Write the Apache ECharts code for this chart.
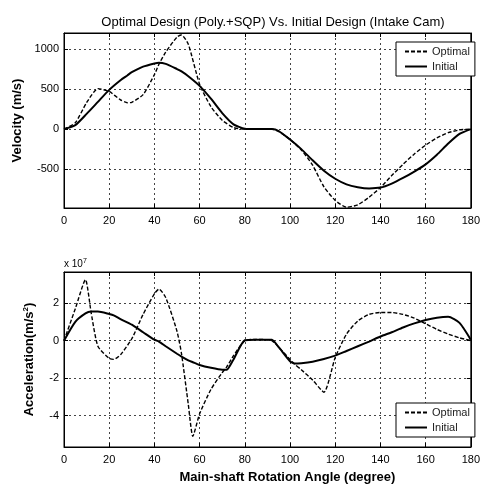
<!DOCTYPE html>
<html>
<head>
<meta charset="utf-8">
<script src="https://cdn.jsdelivr.net/npm/echarts@6/dist/echarts.min.js"></script>
<style>
  html, body { margin: 0; padding: 0; background: #fff; }
  #chart_container { width: 483px; height: 491px; }
</style>
</head>
<body>
<div id="chart_container"></div>
<script>
// velocity (m/s) vs main-shaft angle (degree)
var velAngle = [0, 5, 10, 15, 20, 25, 28, 30, 35, 40, 42, 45, 50, 52, 55, 60, 65, 70, 75, 80,
  85, 90, 92, 95, 100, 105, 110, 115, 120, 125, 130, 135, 140, 145, 150, 155, 160, 165, 170, 175, 180];
var velOptimal = [0, 80, 330, 505, 470, 365, 330, 335, 430, 680, 810, 960, 1150, 1175, 1060, 560, 280, 110, 20, 0,
  0, 0, 0, -30, -130, -260, -450, -720, -890, -975, -945, -850, -730, -580, -440, -310, -200, -110, -45, -10, 0];
var velInitial = [0, 50, 190, 340, 490, 610, 670, 710, 780, 820, 830, 815, 750, 720, 660, 540, 380, 200, 60, 5,
  0, 0, 0, -25, -130, -250, -390, -520, -620, -690, -725, -740, -730, -680, -610, -530, -440, -320, -180, -60, 0];

// acceleration (x 10^7 m/s^2)
var accAngle = [0, 5, 9.5, 12, 15, 20, 22, 25, 30, 35, 40, 42, 45, 50, 52, 55, 57, 60, 65, 70, 72, 75, 80,
  85, 90, 92, 95, 100, 102, 105, 110, 115, 120, 125, 130, 135, 140, 145, 150, 155, 160, 165, 170, 175, 180];
var accOptimal = [0, 1.7, 3.25, 1.5, -0.3, -0.95, -1.0, -0.75, 0.1, 1.4, 2.5, 2.75, 2.3, 0.5, -0.7, -3.4, -5.1, -3.9, -2.6, -1.7, -1.4, -0.8, 0.0,
  0.07, 0.05, 0.0, -0.35, -1.0, -1.25, -1.55, -2.1, -2.75, -0.9, 0.35, 1.05, 1.4, 1.5, 1.5, 1.4, 1.2, 0.9, 0.6, 0.35, 0.15, 0];
var accInitial = [0, 1.0, 1.45, 1.55, 1.55, 1.42, 1.35, 1.15, 0.85, 0.45, 0.05, -0.05, -0.3, -0.7, -0.85, -1.05, -1.15, -1.3, -1.45, -1.55, -1.55, -1.0, 0.02,
  0.05, 0.05, 0.05, -0.35, -1.1, -1.22, -1.2, -1.12, -0.98, -0.8, -0.55, -0.3, -0.05, 0.22, 0.45, 0.7, 0.92, 1.1, 1.22, 1.27, 0.95, 0.05];

var seriesNames = ["Optimal", "Initial"];

function pairs(xs, ys) {
  return xs.map(function (x, i) { return [x, ys[i]]; });
}

var FONT = "Liberation Sans";
var gridLine = { show: true, lineStyle: { color: "#444", type: [2, 3], width: 1 } };
var tick = { show: true, inside: true, length: 4, lineStyle: { color: "#000" } };
var label = { color: "#000", fontFamily: FONT, fontSize: 11, formatter: function (v) { return String(v); } };

function xAxisFor(gi, withName) {
  return [
    {
      gridIndex: gi, type: "value", min: 0, max: 180, interval: 20,
      axisLine: { onZero: false, lineStyle: { color: "#000" } },
      axisTick: tick, splitLine: gridLine,
      axisLabel: Object.assign({ margin: 7 }, label),
      name: withName ? "Main-shaft Rotation Angle (degree)" : "",
      nameLocation: "middle", nameGap: 24,
      nameTextStyle: { color: "#000", fontFamily: FONT, fontSize: 13, fontWeight: "bold", padding: [0, 0, 0, 40] }
    },
    {
      gridIndex: gi, type: "value", min: 0, max: 180, interval: 20, position: "top",
      axisLine: { onZero: false, lineStyle: { color: "#000" } },
      axisTick: tick, splitLine: { show: false }, axisLabel: { show: false }
    }
  ];
}

function yAxisFor(gi, min, max, name, gap) {
  return [
    {
      gridIndex: gi, type: "value", min: min, max: max, splitNumber: 5,
      axisLine: { show: true, onZero: false, lineStyle: { color: "#000" } },
      axisTick: tick, splitLine: gridLine,
      axisLabel: Object.assign({ margin: 5, showMinLabel: false, showMaxLabel: false }, label),
      name: name, nameLocation: "middle", nameGap: gap,
      nameTextStyle: {
        color: "#000", fontFamily: FONT, fontSize: 13, fontWeight: "bold",
        rich: { sup: { fontSize: 8, fontWeight: "bold", fontFamily: FONT, color: "#000", verticalAlign: "top", padding: [0, 0, 6, 0] } }
      }
    },
    {
      gridIndex: gi, type: "value", min: min, max: max, splitNumber: 5, position: "right",
      axisLine: { show: true, onZero: false, lineStyle: { color: "#000" } },
      axisTick: tick, splitLine: { show: false }, axisLabel: { show: false }
    }
  ];
}

function lineSeries(name, xi, yi, data) {
  var dashed = name === "Optimal";
  return {
    name: name, type: "line", xAxisIndex: xi, yAxisIndex: yi,
    data: data, symbol: "none", smooth: 0.2, silent: true,
    lineStyle: { color: "#000", width: dashed ? 1.4 : 2, type: dashed ? [4, 2] : "solid" },
    itemStyle: { color: "#000" }
  };
}

function legendAt(left, top) {
  return {
    data: seriesNames, orient: "vertical", left: left, top: top,
    itemWidth: 22, itemHeight: 10, itemGap: 4,
    padding: [4, 5, 4, 8],
    itemStyle: { opacity: 0 },
    borderColor: "#000", borderWidth: 1, backgroundColor: "#fff",
    textStyle: { color: "#222", fontFamily: FONT, fontSize: 11 }
  };
}

var myChart = echarts.init(document.getElementById("chart_container"), null, { renderer: "canvas" });

var option = {
  backgroundColor: "#fff",
  animation: false,
  title: {
    text: "Optimal Design (Poly.+SQP) Vs. Initial Design (Intake Cam)",
    left: 268, top: 11, textAlign: "center",
    textStyle: { color: "#000", fontFamily: FONT, fontSize: 13, fontWeight: "normal" }
  },
  legend: [legendAt(396, 42), legendAt(396, 403)],
  grid: [
    { left: 64, right: 6, top: 33, height: 175, show: true, borderColor: "#000", borderWidth: 1 },
    { left: 64, right: 6, top: 272, height: 175, show: true, borderColor: "#000", borderWidth: 1 }
  ],
  xAxis: xAxisFor(0, false).concat(xAxisFor(1, true)),
  yAxis: yAxisFor(0, -985, 1200, "Velocity (m/s)", 39)
    .concat(yAxisFor(1, -5.67, 3.66, "Acceleration(m/s{sup|2})", 28)),
  graphic: [
    {
      type: "text", left: 64, top: 258,
      style: { text: "x 10{sup|7}", fill: "#000", font: "10px " + FONT,
        rich: { sup: { fontSize: 7, fontFamily: FONT, verticalAlign: "top", padding: [0, 0, 5, 0] } } }
    }
  ],
  series: [
    lineSeries("Optimal", 0, 0, pairs(velAngle, velOptimal)),
    lineSeries("Initial", 0, 0, pairs(velAngle, velInitial)),
    lineSeries("Optimal", 2, 2, pairs(accAngle, accOptimal)),
    lineSeries("Initial", 2, 2, pairs(accAngle, accInitial))
  ]
};

myChart.setOption(option);
window.addEventListener("resize", myChart.resize);
</script>
</body>
</html>
